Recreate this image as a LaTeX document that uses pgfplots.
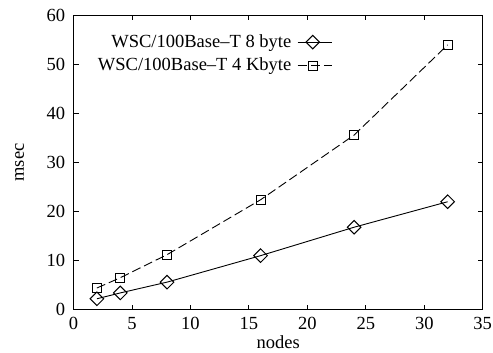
\documentclass[border={9pt 3pt 0pt 3pt}]{standalone}
\usepackage{fontspec}
\setmainfont{Liberation Serif}
\usepackage{pgfplots}
\pgfplotsset{compat=1.18}
\begin{document}
\fontsize{18.5}{20}\selectfont
\begin{tikzpicture}[x=1pt,y=1pt]
\begin{axis}[
  scale only axis,
  width=409pt, height=294pt,
  xmin=0, xmax=35, ymin=0, ymax=60,
  xtick={0,5,...,35}, ytick={0,10,...,60},
  tick align=inside,
  major tick length=5pt,
  axis line style={line width=1pt},
  tick style={line width=0.8pt, black},
  /pgf/number format/assume math mode=true,
  ticklabel style={font=\fontsize{18.5}{20}\selectfont},
  xticklabel style={yshift=-1pt, inner xsep=1pt},
  yticklabel style={xshift=-2pt},
  xlabel={nodes}, ylabel={msec},
  label style={font=\fontsize{18.5}{20}\selectfont},
  xlabel style={yshift=1pt, inner sep=1pt},
  ylabel style={yshift=10pt},
  legend plot pos=right,
  legend cell align=right,
  legend style={draw=none, fill=none, at={(0.64,0.95)}, anchor=north east,
    font=\fontsize{18.5}{20}\selectfont, row sep=4pt, column sep=4pt,
    legend image code/.code={\draw[mark repeat=2,mark phase=2] plot coordinates {(0pt,0pt) (15pt,0pt) (34pt,0pt)};}},
]
\addplot[black, line width=0.9pt, mark=square, mark size=4.8pt, mark options={solid, rotate=45, fill=white, line width=1pt}]
  coordinates {(2,2.2) (4,3.4) (8,5.6) (16,11.0) (24,16.8) (32,22.0)};
\addlegendentry{WSC/100Base--T 8 byte}
\addplot[black, line width=0.9pt, dash pattern=on 9pt off 4pt, mark=square, mark size=4.5pt, mark options={solid, fill=white, line width=1pt}]
  coordinates {(2,4.4) (4,6.5) (8,11.2) (16,22.4) (24,35.6) (32,54.0)};
\addlegendentry{WSC/100Base--T 4 Kbyte}
\end{axis}
\end{tikzpicture}
\end{document}
